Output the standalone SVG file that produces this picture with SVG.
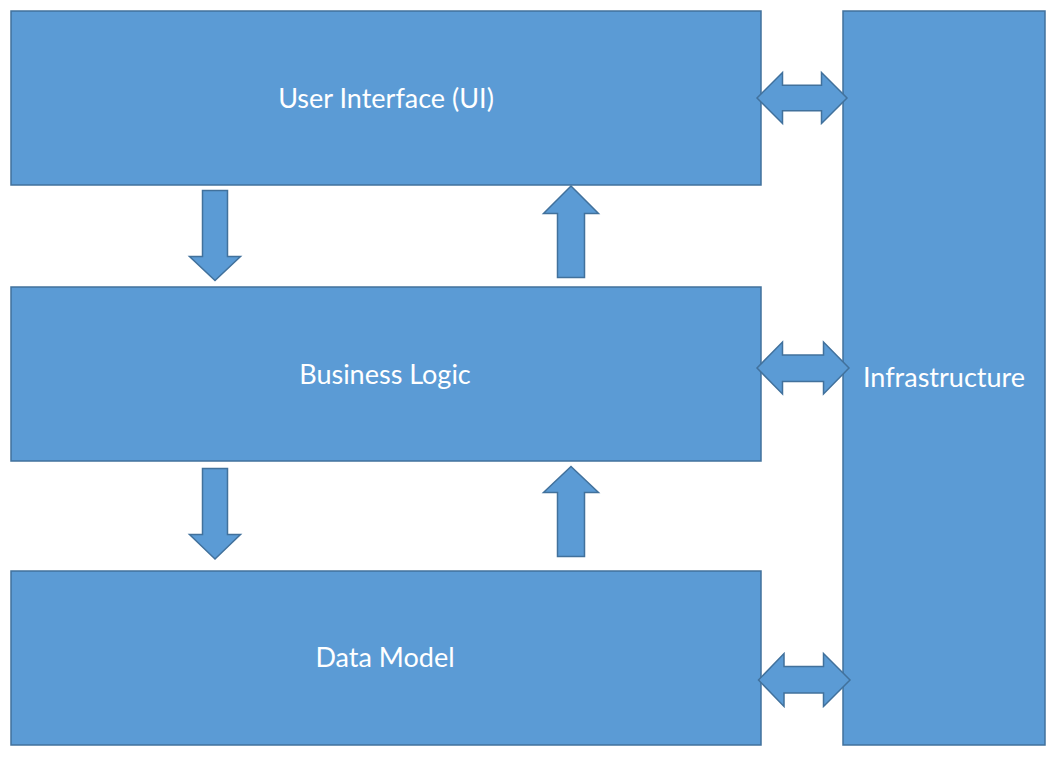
<svg xmlns="http://www.w3.org/2000/svg" width="1056" height="762" viewBox="0 0 1056 762">
<style>
.box{fill:#5B9BD5;stroke:#41719C;stroke-width:1.5}
.arr{fill:#5B9BD5;stroke:#41719C;stroke-width:1.5;stroke-linejoin:miter}
.lbl{fill:#FFFFFF;font-family:Lato,"Liberation Sans",sans-serif;font-size:27px;text-anchor:middle}
</style>
<rect width="1056" height="762" fill="#FFFFFF"/>
<g id="ui">
<rect class="box" x="11" y="11" width="750" height="174"/>
<text class="lbl" x="386" y="108">User Interface (UI)</text>
</g>
<g id="business-logic">
<rect class="box" x="11" y="287" width="750" height="174"/>
<text class="lbl" x="385" y="384">Business Logic</text>
</g>
<g id="data-model">
<rect class="box" x="11" y="571" width="750" height="174"/>
<text class="lbl" x="385" y="667">Data Model</text>
</g>
<g id="infrastructure">
<rect class="box" x="843" y="11" width="202" height="734"/>
<text class="lbl" x="944" y="387">Infrastructure</text>
</g>
<g id="connectors">
<path class="arr" d="M202.5,190.5 H227.5 V256.5 H240.5 L215,280.5 L189.5,256.5 H202.5 Z"/>
<path class="arr" d="M571,186 L598.5,213.5 H584.5 V277.5 H557.5 V213.5 H543.5 Z"/>
<path class="arr" d="M202.5,468.5 H227.5 V534.5 H240.5 L215,559 L189.5,534.5 H202.5 Z"/>
<path class="arr" d="M571,466.5 L598.5,492.5 H584.5 V556.5 H557.5 V492.5 H543.5 Z"/>
<path class="arr" d="M757,98 L782.5,72.5 V85.3 H821.5 V72.5 L847,98 L821.5,123.5 V110.7 H782.5 V123.5 Z"/>
<path class="arr" d="M757,368 L782.5,342 V355 H823.5 V342 L849,368 L823.5,394 V381.5 H782.5 V394 Z"/>
<path class="arr" d="M758.5,680 L784,653.5 V666.5 H823.5 V653.5 L850,680 L823.5,706.5 V693 H784 V706.5 Z"/>
</g>
</svg>
